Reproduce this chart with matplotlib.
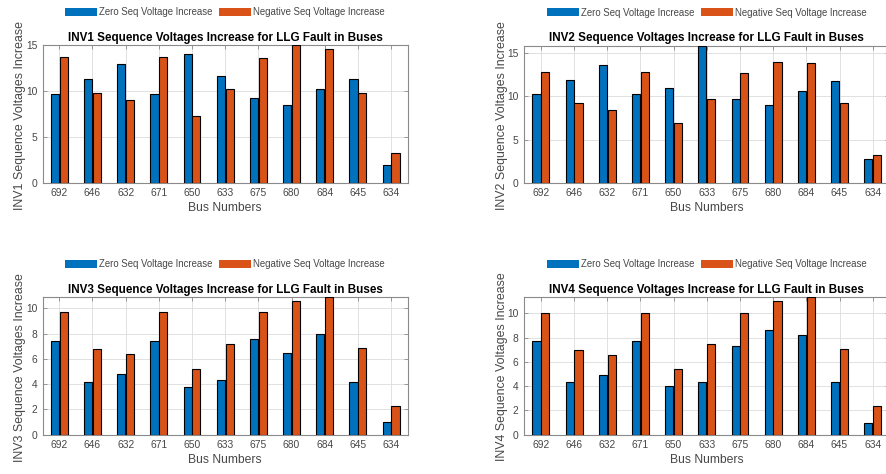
import numpy as np
import matplotlib
matplotlib.use("Agg")
import matplotlib.pyplot as plt
from matplotlib.patches import Patch

plt.rcParams['font.family'] = ['Liberation Sans', 'DejaVu Sans']

# ── Data ──────────────────────────────────────────────────────────────────────
buses = ['692', '646', '632', '671', '650', '633', '675', '680', '684', '645', '634']

inv1_zero = [9.7, 11.3, 12.9, 9.7, 14.0, 11.6, 9.2, 8.5, 10.2, 11.3, 1.9]
inv1_neg  = [13.7, 9.8, 9.0, 13.7, 7.3, 10.2, 13.6, 14.95, 14.6, 9.8, 3.2]

inv2_zero = [10.3, 11.9, 13.6, 10.3, 11.0, 15.9, 9.7, 9.0, 10.6, 11.8, 2.8]
inv2_neg  = [12.8, 9.2, 8.4, 12.8, 6.9, 9.7, 12.7, 14.0, 13.9, 9.2, 3.2]

inv3_zero = [7.4, 4.2, 4.8, 7.4, 3.8, 4.3, 7.6, 6.5, 8.0, 4.2, 1.0]
inv3_neg  = [9.7, 6.8, 6.4, 9.7, 5.2, 7.2, 9.7, 10.6, 10.93, 6.85, 2.3]

inv4_zero = [7.7, 4.35, 4.9, 7.7, 4.0, 4.35, 7.35, 8.6, 8.2, 4.35, 0.95]
inv4_neg  = [10.05, 7.0, 6.6, 10.05, 5.4, 7.45, 10.0, 11.05, 11.38, 7.05, 2.35]

inverters = ['INV1', 'INV2', 'INV3', 'INV4']
zero_seq = [inv1_zero, inv2_zero, inv3_zero, inv4_zero]
neg_seq = [inv1_neg, inv2_neg, inv3_neg, inv4_neg]

# ── Style ─────────────────────────────────────────────────────────────────────
C_ZERO = "#0072BD"
C_NEG = "#D95319"
C_TEXT = "#474747"
C_AXIS = "#8a8a8a"

W, H = 887, 474
fig = plt.figure(figsize=(W / 100, H / 100), dpi=100)

# axes boxes in pixels: left, top, width, height
boxes = [(42.7, 45.0, 365, 137.7), (524.3, 45.5, 365, 137.2),
         (42.7, 296.7, 365, 138.0), (524.3, 296.7, 365, 138.0)]
ylims = [15, 15.9, 10.93, 11.38]
ysteps = [5, 5, 2, 2]

x = np.arange(1, len(buses) + 1)
bw = 0.245
off = 0.132

for i, (lx, ty, w, h) in enumerate(boxes):
    ax = fig.add_axes([lx / W, (H - ty - h) / H, w / W, h / H])
    ax.bar(x - off, zero_seq[i], bw, color=C_ZERO, edgecolor="black",
           linewidth=0.8, zorder=3)
    ax.bar(x + off, neg_seq[i], bw, color=C_NEG, edgecolor="black",
           linewidth=0.8, zorder=3)

    ax.set_xlim(0.5, len(buses) + 0.5)
    ax.set_ylim(0, ylims[i])
    ax.set_xticks(x)
    ax.set_xticklabels(buses)
    ax.set_yticks(np.arange(0, ylims[i] + 0.01, ysteps[i]))

    ax.grid(True, color="#dcdcdc", linewidth=0.6, zorder=0)
    ax.set_axisbelow(True)
    for s in ax.spines.values():
        s.set_color(C_AXIS)
        s.set_linewidth(0.8)
    ax.tick_params(direction="in", length=3, width=0.6, color=C_AXIS,
                   labelsize=7.4, labelcolor=C_TEXT, top=True, right=True,
                   pad=4)

    ax.set_title(f"{inverters[i]} Sequence Voltages Increase for LLG Fault in Buses",
                 fontsize=8.4, fontweight="bold", color="black", pad=3)
    ax.set_xlabel("Bus Numbers", fontsize=8.7, color=C_TEXT, labelpad=3)
    ax.set_ylabel(f"{inverters[i]} Sequence Voltages Increase", fontsize=8.9,
                  color=C_TEXT)
    ax.yaxis.set_label_coords(-0.046, 0.49)

    handles = [Patch(facecolor=C_ZERO, edgecolor="none", label="Zero Seq Voltage Increase"),
               Patch(facecolor=C_NEG, edgecolor="none", label="Negative Seq Voltage Increase")]
    ax.legend(handles=handles, loc="center", ncol=2, frameon=False,
              bbox_to_anchor=(0.5, 1 + 32.8 / h), fontsize=6.9,
              handlelength=3.3, handleheight=0.9, handletextpad=0.25,
              columnspacing=0.7, borderpad=0, labelcolor=C_TEXT)

fig.savefig("out.png", dpi=100, facecolor="white")
